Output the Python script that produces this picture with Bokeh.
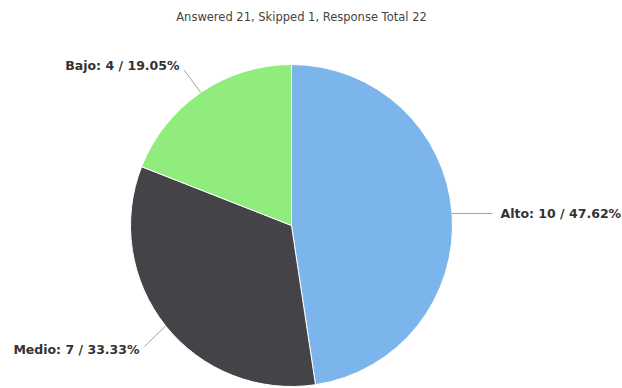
import math
from bokeh.plotting import figure
from bokeh.models import Range1d, ColumnDataSource
from bokeh.core.properties import value
from bokeh.embed import file_html
from bokeh.resources import INLINE

# ---- data ----
categories = ["Alto", "Medio", "Bajo"]
counts = [10, 7, 4]
colors = ["#7cb5ec", "#434348", "#90ed7d"]
title_text = "Answered 21, Skipped 1, Response Total 22"

# ---- layout (reference pixel positions) ----
W, H = 622, 388
def fx(px): return px
def fy(py): return H - py

cx, cy, R = fx(291), fy(225), 161
# label anchor (ref px), alignment, connector end (ref px)
label_pos = {
    "Alto": (500, 213, "left", (492, 213)),
    "Medio": (139, 349, "right", (144, 346)),
    "Bajo": (179, 65, "right", (184, 70)),
}

p = figure(width=W, height=H, output_backend="svg", toolbar_location=None,
           x_range=Range1d(0, W), y_range=Range1d(0, H), min_border=0)
p.axis.visible = False
p.grid.visible = False
p.outline_line_color = None
p.background_fill_color = "white"
p.border_fill_color = "white"

total = sum(counts)
starts, ends, mids = [], [], []
cum = 0.0
for c in counts:
    f0 = cum / total
    cum += c
    f1 = cum / total
    starts.append(math.pi / 2 - 2 * math.pi * f1)
    ends.append(math.pi / 2 - 2 * math.pi * f0)
    mids.append(math.pi / 2 - 2 * math.pi * (f0 + f1) / 2)

src = ColumnDataSource(dict(start=starts, end=ends, color=colors))
p.wedge(x=cx, y=cy, radius=R, start_angle="start", end_angle="end",
        fill_color="color", line_color="white", line_width=1, source=src)

for cat, c, m in zip(categories, counts, mids):
    lx, ly, align, (ex, ey) = label_pos[cat]
    px0 = cx + R * math.cos(m)
    py0 = cy + R * math.sin(m)
    p.line([px0, fx(ex)], [py0, fy(ey)], line_color="#a0a0a0", line_width=1)
    pct = 100.0 * c / total
    txt = f"{cat}: {c} / {pct:.2f}%"
    p.text(x=[fx(lx)], y=[fy(ly)], text=[txt], text_align=align,
           text_baseline="middle", text_font=value("DejaVu Sans"),
           text_font_style="bold", text_font_size="12.5px", text_color="#333333")

p.text(x=[fx(301)], y=[fy(16)], text=[title_text], text_align="center",
       text_baseline="middle", text_font=value("DejaVu Sans"),
       text_font_size="11.5px", text_color="#444444")

open("out.html", "w").write(file_html(p, INLINE))
